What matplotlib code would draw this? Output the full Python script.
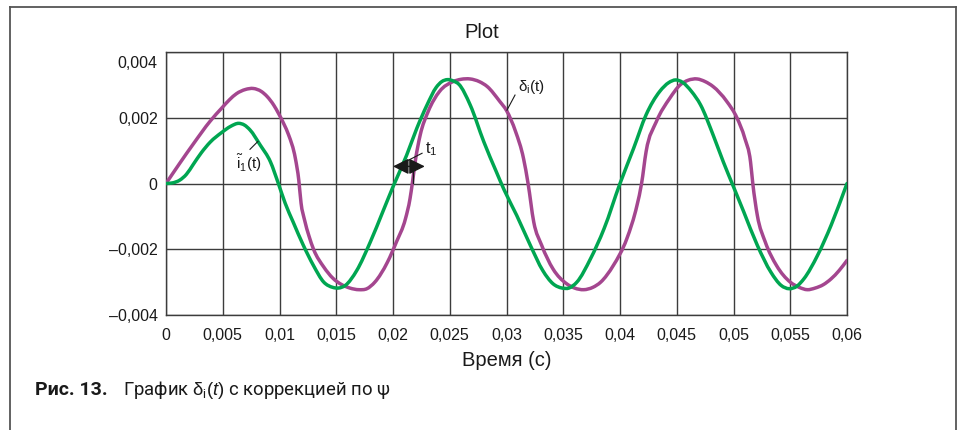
import matplotlib
matplotlib.use("Agg")
import matplotlib.pyplot as plt
from matplotlib.lines import Line2D
from matplotlib.path import Path
from matplotlib.patches import PathPatch
from matplotlib.transforms import ScaledTranslation

plt.rcParams['font.family'] = ['Liberation Sans', 'DejaVu Sans']
plt.rcParams['mathtext.fontset'] = 'custom'
plt.rcParams['mathtext.rm'] = 'Liberation Sans'
plt.rcParams['mathtext.it'] = 'Liberation Sans:italic'
plt.rcParams['mathtext.bf'] = 'Liberation Sans:bold'

# ---- data ----
t_green = [0, 0.0006, 0.0012, 0.0018, 0.0024, 0.0031, 0.0039, 0.0049, 0.0057, 0.0064,
           0.0069, 0.0074, 0.0083, 0.0092, 0.0099, 0.0105, 0.0112, 0.0121, 0.013, 0.0139,
           0.0147, 0.0152, 0.0158, 0.0168, 0.018, 0.0191, 0.02, 0.0212, 0.0221, 0.023,
           0.0238, 0.0243, 0.0248, 0.0253, 0.0258, 0.0268, 0.028, 0.0291, 0.0298, 0.0309,
           0.0321, 0.0332, 0.0341, 0.0349, 0.0355, 0.0362, 0.0374, 0.0386, 0.04, 0.0412,
           0.0423, 0.0435, 0.0443, 0.0449, 0.0455, 0.0463, 0.0471, 0.0482, 0.0491, 0.05,
           0.0509, 0.0521, 0.0533, 0.0542, 0.0549, 0.0556, 0.0562, 0.0574, 0.0586, 0.06]
v_green = [0, 0.00002, 0.0001, 0.00028, 0.00058, 0.00093, 0.00126, 0.00155, 0.00174, 0.00183,
           0.00178, 0.00163, 0.00117, 0.00066, 0.0, -0.0006, -0.00117, -0.00188, -0.0025, -0.003,
           -0.00316, -0.00318, -0.0031, -0.00265, -0.00178, -0.00086, -0.0001, 0.00086, 0.00168, 0.00239,
           0.00292, 0.0031, 0.00316, 0.00312, 0.00302, 0.00239, 0.00127, 0.00036, -0.0002, -0.00097,
           -0.00188, -0.00265, -0.00305, -0.00318, -0.00318, -0.003, -0.00229, -0.00137, 0.0, 0.00107,
           0.00209, 0.0028, 0.00307, 0.00315, 0.00308, 0.0028, 0.00239, 0.00148, 0.00066, -0.0001,
           -0.00086, -0.00188, -0.0027, -0.0031, -0.0032, -0.00312, -0.0029, -0.00219, -0.00127, 0.0]

t_purple = [0, 0.0012, 0.0024, 0.0039, 0.0049, 0.0056, 0.0062, 0.0070, 0.0077, 0.0084,
            0.0089, 0.0095, 0.0099, 0.0104, 0.0108, 0.0114, 0.0117, 0.0119, 0.0122, 0.0126,
            0.013, 0.0139, 0.0147, 0.0155, 0.0162, 0.017, 0.0177, 0.0184, 0.0195, 0.0203,
            0.0211, 0.0215, 0.0217, 0.022, 0.0224, 0.0231, 0.0241, 0.0253, 0.026, 0.0268,
            0.0276, 0.0283, 0.0294, 0.03, 0.0308, 0.0315, 0.0319, 0.0324, 0.0331, 0.0341,
            0.0353, 0.036, 0.0368, 0.0376, 0.0383, 0.0394, 0.0406, 0.0415, 0.0419, 0.0423,
            0.0432, 0.0444, 0.0453, 0.046, 0.0468, 0.0475, 0.0482, 0.0494, 0.0503, 0.051,
            0.0515, 0.0517, 0.0521, 0.0528, 0.0538, 0.055, 0.0558, 0.0565, 0.0572, 0.0579,
            0.0586, 0.0593, 0.06]
v_purple = [0, 0.00061, 0.0012, 0.0019, 0.00229, 0.00255, 0.00273, 0.00286, 0.00289, 0.0028,
            0.00265, 0.00238, 0.00214, 0.0018, 0.00148, 0.00076, 0.0001, -0.0006, -0.0011, -0.0016,
            -0.002, -0.00254, -0.00288, -0.00308, -0.00318, -0.00323, -0.0032, -0.003, -0.0024, -0.00178,
            -0.00107, -0.00046, 0.0, 0.00076, 0.00148, 0.00219, 0.0028, 0.0031, 0.00317, 0.00318,
            0.0031, 0.00295, 0.0025, 0.00222, 0.00158, 0.00076, 0.0, -0.00117, -0.00188, -0.0026,
            -0.00305, -0.00318, -0.00323, -0.00316, -0.003, -0.0025, -0.00168, -0.00066, 0.0, 0.00097,
            0.00188, 0.0026, 0.003, 0.00314, 0.00318, 0.0031, 0.00295, 0.0025, 0.002, 0.00137,
            0.00066, 0.0, -0.00097, -0.00178, -0.0025, -0.003, -0.00316, -0.00323, -0.00318, -0.00308,
            -0.0029, -0.00265, -0.00234]

x_ticks = [0, 0.005, 0.01, 0.015, 0.02, 0.025, 0.03, 0.035, 0.04, 0.045, 0.05, 0.055, 0.06]
x_tick_labels = ['0', '0,005', '0,01', '0,015', '0,02', '0,025', '0,03', '0,035', '0,04',
                 '0,045', '0,05', '0,055', '0,06']
y_ticks = [-0.004, -0.002, 0, 0.002, 0.004]
y_tick_labels = ['\u20130,004', '\u20130,002', '0', '0,002', '0,004']

title = 'Plot'
x_label = 'Время (с)'
label_green = r'$\tilde{\mathrm{i}}_1\mathrm{(t)}$'
label_purple = r'$\mathrm{\delta_i(t)}$'
label_shift = r'$\mathrm{t_1}$'
caption_bold = 'Рис. 13.'
caption_text = r'График $\mathrm{\delta_i}\mathit{(t)}$ с коррекцией по ψ'

GREEN = '#00a651'
PURPLE = '#a4468f'
GRID = '#3c3c3c'


def smooth_curve(ax, xs, ys, **kw):
    """Draw a smooth cubic path through the given points (Hermite, x as parameter)."""
    n = len(xs)
    h = [xs[i + 1] - xs[i] for i in range(n - 1)]
    s = [(ys[i + 1] - ys[i]) / h[i] for i in range(n - 1)]
    d = [0.0] * n
    d[0] = s[0]
    d[-1] = s[-1]
    for i in range(1, n - 1):
        d[i] = (h[i - 1] * s[i] + h[i] * s[i - 1]) / (h[i - 1] + h[i])
    verts = [(xs[0], ys[0])]
    codes = [Path.MOVETO]
    for i in range(n - 1):
        verts += [(xs[i] + h[i] / 3, ys[i] + d[i] * h[i] / 3),
                  (xs[i + 1] - h[i] / 3, ys[i + 1] - d[i + 1] * h[i] / 3),
                  (xs[i + 1], ys[i + 1])]
        codes += [Path.CURVE4] * 3
    patch = PathPatch(Path(verts, codes), fill=False, transform=ax.transData, **kw)
    ax.add_patch(patch)
    return patch


W, H = 959, 430
fig = plt.figure(figsize=(W / 100, H / 100), dpi=100)
fig.patch.set_facecolor('white')

ax = fig.add_axes([166 / W, 115 / H, 681 / W, 263 / H])
smooth_curve(ax, t_purple, v_purple, edgecolor=PURPLE, lw=2.5, capstyle='round', zorder=3)
smooth_curve(ax, t_green, v_green, edgecolor=GREEN, lw=2.5, capstyle='round', zorder=3)

ax.set_xlim(0, 0.06)
ax.set_ylim(-0.004, 0.004)
ax.set_xticks(x_ticks)
ax.set_xticklabels(x_tick_labels)
ax.set_yticks(y_ticks)
ax.set_yticklabels(y_tick_labels)
ax.tick_params(axis='both', length=0, labelsize=11.5, colors='#1a1a1a')
ax.tick_params(axis='x', pad=9)
ax.tick_params(axis='y', pad=6)
ax.grid(True, color=GRID, lw=1.0)
ax.set_axisbelow(True)
for sp in ax.spines.values():
    sp.set_color(GRID)
    sp.set_linewidth(1.0)

# top y tick label sits a bit lower in the reference
top_lbl = ax.get_yticklabels()[-1]
top_lbl.set_transform(top_lbl.get_transform() + ScaledTranslation(0, -10 / 100, fig.dpi_scale_trans))

ax.set_xlabel(x_label, fontsize=14.5, color='#1a1a1a', labelpad=6)
fig.text(482 / W, 1 - 32 / H, title, fontsize=14.5, ha='center', va='center', color='#1a1a1a')

# annotations
ax.text(0.00727, 0.00061, label_green, fontsize=11, ha='center', va='center', color='#1a1a1a')
ax.plot([0.0074, 0.0081], [0.00104, 0.00128], color='#1a1a1a', lw=0.8, zorder=4)

ax.text(0.0322, 0.00293, label_purple, fontsize=11, ha='center', va='center', color='#1a1a1a')
ax.plot([0.03004, 0.03075], [0.00223, 0.00269], color='#1a1a1a', lw=0.8, zorder=4)

ax.text(0.0234, 0.00104, label_shift, fontsize=11.5, ha='center', va='center', color='#1a1a1a')
ax.plot([0.02097, 0.02256], [0.00064, 0.00092], color='#1a1a1a', lw=0.8, zorder=4)
ax.annotate('', xy=(0.0200, 0.00052), xytext=(0.0228, 0.00052),
            arrowprops=dict(arrowstyle='<|-|>,head_length=0.8,head_width=0.4',
                            color='#1a1a1a', lw=1.0, shrinkA=0, shrinkB=0, mutation_scale=12),
            zorder=5)
ax.plot([0.02176, 0.02176], [0.00003, 0.00064], color='#1a1a1a', lw=0.9, zorder=5)

# outer frame
fc = '#555555'
for (x0, y0, x1, y1) in [(10, 7, 956, 7), (10, 7, 10, 431), (956, 7, 956, 431)]:
    fig.add_artist(Line2D([x0 / W, x1 / W], [1 - y0 / H, 1 - y1 / H],
                          transform=fig.transFigure, color=fc, lw=1.3))

# caption
fig.text(35 / W, 1 - 390 / H, caption_bold, fontsize=14, fontweight='bold',
         family=['Roboto', 'DejaVu Sans'], ha='left', va='center', color='#1a1a1a')
fig.text(123 / W, 1 - 390 / H, caption_text, fontsize=13.3,
         family=['Roboto', 'DejaVu Sans'], ha='left', va='center', color='#1a1a1a')

fig.savefig('out.png', dpi=100, facecolor='white')
